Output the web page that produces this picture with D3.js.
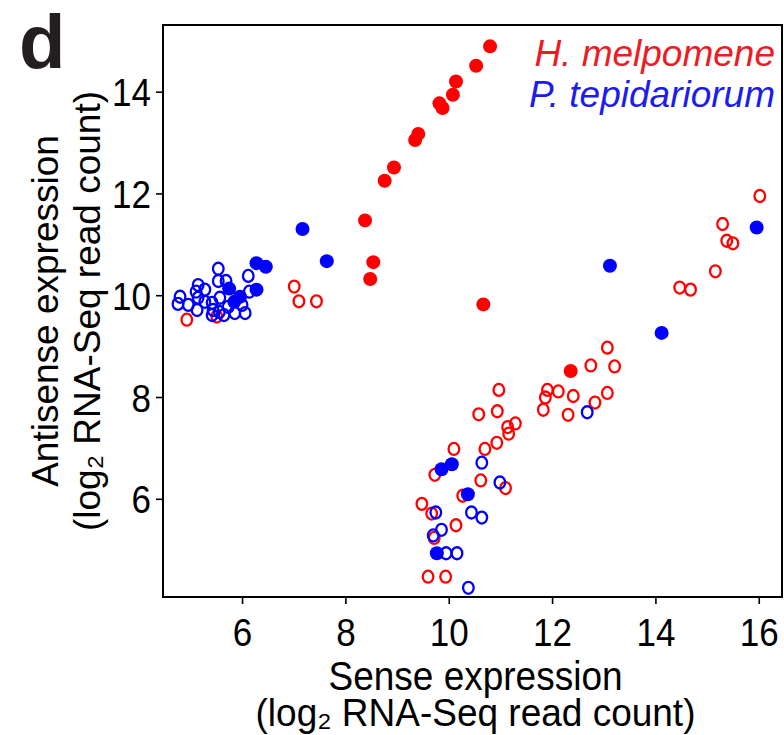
<!DOCTYPE html>
<html>
<head>
<meta charset="utf-8">
<script src="https://cdn.jsdelivr.net/npm/d3@7"></script>
<style>
  body { margin: 0; background: #fff; }
  text { font-family: "Liberation Sans", Arial, sans-serif; }
</style>
</head>
<body>
<div id="chart"></div>
<script>
// H. melpomene (red) and P. tepidariorum (blue), [sense, antisense]
let melpomeneFilled = [
  [10.80, 14.89], [10.53, 14.51], [10.14, 14.20], [10.08, 13.94], [9.82, 13.77],
  [9.88, 13.68], [9.41, 13.17], [9.35, 13.05], [8.94, 12.51], [8.76, 12.25],
  [8.38, 11.47], [8.54, 10.65], [8.48, 10.32], [10.67, 9.82], [12.36, 8.51]
];
let melpomeneOpen = [
  [16.02, 11.95], [15.30, 11.40], [15.38, 11.07], [15.50, 11.02], [15.16, 10.47],
  [14.47, 10.15], [14.68, 10.11], [13.07, 8.97], [12.75, 8.62], [13.21, 8.60],
  [10.97, 8.14], [11.91, 8.14], [12.12, 8.11], [11.87, 7.99], [12.41, 8.02],
  [13.07, 8.08], [12.83, 7.89], [11.83, 7.75], [12.31, 7.65], [10.94, 7.72],
  [10.58, 7.66], [11.14, 7.41], [11.29, 7.48], [11.16, 7.28], [10.93, 7.10],
  [10.70, 6.98], [10.10, 6.98], [9.73, 6.47], [10.62, 6.36], [10.27, 6.06],
  [11.10, 6.21], [9.48, 5.90], [9.67, 5.71], [10.14, 5.48], [9.72, 5.23],
  [9.60, 4.47], [9.94, 4.47], [7.01, 10.17], [7.10, 9.88], [7.44, 9.88],
  [4.93, 9.52], [5.51, 9.58]
];
let tepidariorumFilled = [
  [7.17, 11.30], [7.64, 10.67], [6.46, 10.56], [6.28, 10.63], [6.28, 10.11],
  [5.75, 10.13], [5.96, 9.97], [5.85, 9.87], [13.12, 10.58], [14.12, 9.26],
  [15.96, 11.33], [9.86, 6.58], [10.06, 6.68], [10.37, 6.09], [9.77, 4.93]
];
let tepidariorumOpen = [
  [12.68, 7.70], [10.64, 6.71], [10.99, 6.32], [9.75, 5.73], [10.44, 5.73],
  [10.64, 5.63], [9.86, 5.39], [9.70, 5.28], [9.95, 4.93], [10.16, 4.93],
  [10.38, 4.25],
  [5.54, 10.52], [5.54, 10.28], [5.69, 10.28], [6.12, 10.38], [5.15, 10.20],
  [5.28, 10.11], [5.11, 10.07], [4.80, 9.97], [4.76, 9.83], [4.96, 9.81],
  [5.15, 9.95], [5.13, 9.71], [5.28, 9.87], [5.42, 9.85], [5.44, 9.71],
  [5.56, 9.67], [5.57, 9.95], [5.73, 9.77], [5.86, 9.65], [6.06, 9.65],
  [6.00, 9.81], [6.14, 10.07], [5.42, 9.61], [5.65, 9.61]
];
let xTicks = [6, 8, 10, 12, 14, 16];
let yTicks = [6, 8, 10, 12, 14];

const RED = "#ff0000", BLUE = "#0000ff";
const STRETCH = 1.13; // horizontal labels in the source look a bit tall
let width = 784, height = 735;
let margin = {top: 25, right: 2, bottom: 138, left: 163};

let svg = d3.select("#chart")
    .append("svg")
    .attr("width", width)
    .attr("height", height);

let x = d3.scaleLinear()
    .domain([4.47, 16.45])
    .range([margin.left, width - margin.right]);

let y = d3.scaleLinear()
    .domain([4.07, 15.31])
    .range([height - margin.bottom, margin.top]);

// axes
let xAxis = svg.append("g")
    .attr("transform", `translate(0, ${height - margin.bottom})`)
    .call(d3.axisBottom(x).tickValues(xTicks).tickSize(7).tickSizeOuter(0));

let yAxis = svg.append("g")
    .attr("transform", `translate(${margin.left}, 0)`)
    .call(d3.axisLeft(y).tickValues(yTicks).tickSize(7).tickSizeOuter(0));

[xAxis, yAxis].forEach(a => {
    a.select(".domain").remove();
    a.selectAll("line").attr("stroke", "#000").attr("stroke-width", 1.6);
    a.selectAll("text")
        .style("font-family", "'Liberation Sans', Arial, sans-serif")
        .style("font-size", "35px")
        .attr("fill", "#000")
        .attr("dy", null)
        .attr("y", 0)
        .attr("x", 0);
});
xAxis.selectAll("text").attr("transform", `translate(0, 49) scale(1, ${STRETCH})`);
yAxis.selectAll("text").attr("transform", `translate(-12, 14) scale(1, ${STRETCH})`);

// frame
svg.append("rect")
    .attr("x", margin.left)
    .attr("y", margin.top)
    .attr("width", width - margin.right - margin.left)
    .attr("height", height - margin.bottom - margin.top)
    .attr("fill", "none")
    .attr("stroke", "#000")
    .attr("stroke-width", 2);

// points
let drawOpen = (data, color) => {
    svg.append("g").selectAll("ellipse")
        .data(data)
        .enter()
        .append("ellipse")
        .attr("cx", d => x(d[0]))
        .attr("cy", d => y(d[1]))
        .attr("rx", 5.3)
        .attr("ry", 6)
        .attr("fill", "none")
        .attr("stroke", color)
        .attr("stroke-width", 2.3);
};
let drawFilled = (data, color) => {
    svg.append("g").selectAll("circle")
        .data(data)
        .enter()
        .append("circle")
        .attr("cx", d => x(d[0]))
        .attr("cy", d => y(d[1]))
        .attr("r", 7)
        .attr("fill", color);
};
drawOpen(melpomeneOpen, RED);
drawOpen(tepidariorumOpen, BLUE);
drawFilled(melpomeneFilled, RED);
drawFilled(tepidariorumFilled, BLUE);

// legend
svg.append("text")
    .attr("x", 775).attr("y", 66)
    .attr("text-anchor", "end")
    .style("font-size", "37px").style("font-style", "italic")
    .attr("fill", "#ed1c24")
    .text("H. melpomene");
svg.append("text")
    .attr("x", 775).attr("y", 107)
    .attr("text-anchor", "end")
    .style("font-size", "37px").style("font-style", "italic")
    .attr("fill", "#1c1cf0")
    .text("P. tepidariorum");

// axis titles
let cx = (margin.left + width - margin.right) / 2 + 3;
svg.append("text")
    .attr("transform", `translate(${cx}, 690) scale(1, 1.08)`)
    .attr("text-anchor", "middle")
    .style("font-size", "37px")
    .text("Sense expression");
svg.append("text")
    .attr("transform", `translate(${cx}, 726) scale(1, 1.04)`)
    .attr("text-anchor", "middle")
    .style("font-size", "37px")
    .text("(log₂ RNA-Seq read count)");

let cy = (margin.top + height - margin.bottom) / 2;
svg.append("text")
    .attr("transform", `translate(58, ${cy}) rotate(-90)`)
    .attr("text-anchor", "middle")
    .style("font-size", "37px")
    .text("Antisense expression");
svg.append("text")
    .attr("transform", `translate(100, ${cy}) rotate(-90)`)
    .attr("text-anchor", "middle")
    .style("font-size", "37px")
    .text("(log₂ RNA-Seq read count)");

// panel letter
svg.append("text")
    .attr("x", 19).attr("y", 68)
    .style("font-size", "76px")
    .style("font-weight", "bold")
    .attr("fill", "#231f20")
    .text("d");
</script>
</body>
</html>
